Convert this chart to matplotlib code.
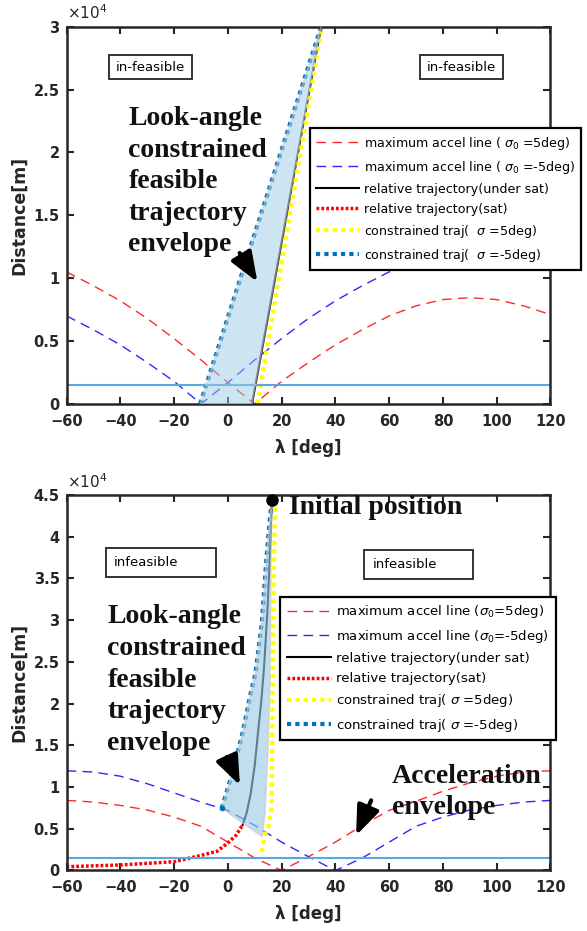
import matplotlib
matplotlib.use('Agg')
import matplotlib.pyplot as plt
from matplotlib.patches import Polygon, Rectangle
from matplotlib.ticker import FuncFormatter

# lambda grid [deg]
lam = [-60, -50, -40, -30, -20, -10, 0, 10, 20, 30, 40, 50, 60, 70, 80, 90, 100, 110, 120]

# ---- upper case (R0 = 3e4) ----
top_red = [10500, 9400, 8200, 6800, 5200, 3500, 1700, 0, 1800, 3300, 4700, 5900, 7000,
           7800, 8300, 8450, 8300, 7800, 7100]
top_blue = [7000, 5900, 4700, 3300, 1800, 0, 1700, 3500, 5200, 6800, 8200, 9400, 10500,
            11400, 12200, 12900, 13500, 14000, 14400]
top_traj_x = [9.0, 34.7]
top_traj_y = [0, 30000]
top_yel_x = [11.0, 35.0]
top_yel_y = [0, 30000]
top_cyan_x = [-10.3, 34.7]
top_cyan_y = [0, 30000]

# ---- lower case (R0 = 4.5e4) ----
bot_red = [8400, 8200, 7800, 7250, 6400, 5300, 3400, 1500, 0, 1650, 3400, 5400, 7200,
           8300, 9500, 10500, 11300, 11800, 11950]
bot_blue = [11950, 11800, 11300, 10400, 9300, 8200, 7200, 5400, 3400, 1650, 0, 1500, 3400,
            5300, 6400, 7250, 7800, 8200, 8400]
bot_sat_x = [-60, -40, -20, -10, -4, 0, 3, 5.5]
bot_sat_y = [450, 660, 1050, 1800, 2300, 3300, 4200, 5450]
bot_traj_x = [5.5, 7.0, 8.5, 10.0, 11.3, 12.5, 13.5, 14.7, 15.6, 16.3]
bot_traj_y = [5450, 6900, 9200, 12600, 16800, 20500, 24500, 31000, 37500, 44000]
bot_yel_x = [12.6, 13.8, 15.1, 16.3, 16.6, 17.0, 17.5]
bot_yel_y = [2200, 4250, 5300, 7600, 20000, 32000, 43500]
bot_cyan_x = [-2.3, 2.0, 5.7, 8.2, 10.2, 12.6, 14.4, 15.7, 16.3]
bot_cyan_y = [7450, 12000, 16800, 20800, 23500, 29600, 37600, 42400, 44000]
bot_env_right_x = [12.8, 13.8, 15.0, 15.7, 16.3]
bot_env_right_y = [4050, 6850, 14800, 22800, 44000]
init_x, init_y = 16.3, 44400

min_dist = 1500

labels_top = ['maximum accel line ( $\\sigma_0$ =5deg)',
              'maximum accel line ( $\\sigma_0$ =-5deg)',
              'relative trajectory(under sat)',
              'relative trajectory(sat)',
              'constrained traj(  $\\sigma$ =5deg)',
              'constrained traj(  $\\sigma$ =-5deg)']
labels_bot = ['maximum accel line ($\\sigma_0$=5deg)',
              'maximum accel line ($\\sigma_0$=-5deg)',
              'relative trajectory(under sat)',
              'relative trajectory(sat)',
              'constrained traj( $\\sigma$ =5deg)',
              'constrained traj( $\\sigma$ =-5deg)']

serif = dict(fontfamily='Liberation Serif', fontweight='bold', fontsize=20, color='#111111',
             linespacing=1.35)
arrow = dict(arrowstyle='-|>,head_length=0.9,head_width=0.35', lw=3, color='black',
             mutation_scale=20, shrinkA=0, shrinkB=0)

fig = plt.figure(figsize=(5.87, 9.31), dpi=100)
ax1 = fig.add_axes([0.1133, 0.5661, 0.8245, 0.4053])
ax2 = fig.add_axes([0.1133, 0.0650, 0.8245, 0.4033])


def style(ax, ymax):
    ax.set_xlim(-60, 120)
    ax.set_ylim(0, ymax)
    ax.set_xticks(range(-60, 121, 20))
    ax.set_yticks(range(0, ymax + 1, 5000))
    ax.yaxis.set_major_formatter(FuncFormatter(lambda v, p: '%g' % (v / 1e4)))
    ax.tick_params(direction='in', length=5, width=1.5, top=True, right=True,
                   labelsize=10.5, colors='#262626')
    ax.tick_params(axis='x', pad=7)
    ax.tick_params(axis='y', pad=5)
    for lab in ax.get_xticklabels() + ax.get_yticklabels():
        lab.set_fontweight('bold')
    for s in ax.spines.values():
        s.set_linewidth(1.8)
        s.set_color('#262626')
    ax.set_xlabel('\u03bb [deg]', fontsize=12, fontweight='bold', color='#262626', va='top')
    ax.xaxis.set_label_coords(0.5, -0.093)
    ax.set_ylabel('Distance[m]', fontsize=12.5, fontweight='bold', color='#262626')
    ax.yaxis.set_label_coords(-0.08, 0.5)
    ax.text(0.0, 1.012, '$\\times10^4$', transform=ax.transAxes, ha='left', va='bottom',
            fontsize=11, color='#262626')


def box(ax, x, y, w, h, txt, center):
    ax.add_patch(Rectangle((x, y), w, h, transform=ax.transAxes, facecolor='white',
                           edgecolor='#333333', lw=1.4, zorder=6))
    if center:
        ax.text(x + w / 2, y + h / 2, txt, transform=ax.transAxes, ha='center',
                va='center', fontsize=9.5, zorder=7)
    else:
        ax.text(x + 0.018, y + h / 2, txt, transform=ax.transAxes, ha='left',
                va='center', fontsize=9.5, zorder=7)


def legend(ax, handles, labels, anchor, size):
    leg = ax.legend(handles, labels, loc='upper left', bbox_to_anchor=anchor,
                    bbox_transform=fig.transFigure, fontsize=size, handlelength=3.4,
                    handletextpad=0.35, labelspacing=0.55, borderpad=0.5,
                    borderaxespad=0, fancybox=False, framealpha=1, edgecolor='black')
    leg.get_frame().set_linewidth(1.6)
    leg.set_zorder(10)


# ---------------- upper plot ----------------
style(ax1, 30000)
h1, = ax1.plot(lam, top_red, color='#ff2a2a', lw=1, dashes=(7, 4.5))
h2, = ax1.plot(lam, top_blue, color='#2a2aff', lw=1, dashes=(7, 4.5))
h3, = ax1.plot(top_traj_x, top_traj_y, color='black', lw=1.5)
h4, = ax1.plot([], [], color='red', lw=2.5, dashes=(0.8, 0.6))
h5, = ax1.plot(top_yel_x, top_yel_y, color='#ffff00', lw=3, dashes=(1, 1))
h6, = ax1.plot(top_cyan_x, top_cyan_y, color='#0072bd', lw=3, dashes=(1, 1))
ax1.axhline(min_dist, color='#5aa7dc', lw=1.5)
env1 = list(zip(top_cyan_x, top_cyan_y)) + list(zip(top_traj_x[::-1], top_traj_y[::-1]))
ax1.add_patch(Polygon(env1, closed=True, facecolor='#9ccbe6', edgecolor='#c8c8c8',
                      lw=1.2, alpha=0.5, zorder=4))
ax1.text(-37, 23700, 'Look-angle\nconstrained\nfeasible\ntrajectory\nenvelope',
         ha='left', va='top', zorder=8, **serif)
ax1.annotate('', xy=(11.0, 9700), xytext=(4.4, 12000), arrowprops=arrow, zorder=8)
box(ax1, 0.0868, 0.861, 0.1715, 0.0636, 'in-feasible', True)
box(ax1, 0.731, 0.861, 0.171, 0.0636, 'in-feasible', True)
legend(ax1, [h1, h2, h3, h4, h5, h6], labels_top, (0.528, 0.862), 9.1)

# ---------------- lower plot ----------------
style(ax2, 45000)
g1, = ax2.plot(lam, bot_red, color='#ff2a2a', lw=1, dashes=(7, 4.5))
g2, = ax2.plot(lam, bot_blue, color='#2a2aff', lw=1, dashes=(7, 4.5))
g3, = ax2.plot(bot_traj_x, bot_traj_y, color='black', lw=1.5)
g4, = ax2.plot(bot_sat_x, bot_sat_y, color='red', lw=2.5, dashes=(0.8, 0.6))
g5, = ax2.plot(bot_yel_x, bot_yel_y, color='#ffff00', lw=3, dashes=(1, 1))
g6, = ax2.plot(bot_cyan_x, bot_cyan_y, color='#0072bd', lw=3, dashes=(1, 1))
ax2.axhline(min_dist, color='#5aa7dc', lw=1.5)
env2 = list(zip(bot_cyan_x, bot_cyan_y)) + list(zip(bot_env_right_x[::-1], bot_env_right_y[::-1]))
ax2.add_patch(Polygon(env2, closed=True, facecolor='#9ccbe6', edgecolor='#c8c8c8',
                      lw=1.2, alpha=0.62, zorder=4))
ax2.plot([bot_cyan_x[0]], [bot_cyan_y[0]], 'o', color='#0072bd', ms=3, zorder=5)
ax2.plot([init_x], [init_y], 'o', color='black', ms=8, zorder=9, clip_on=False)
ax2.text(22.6, 45000, 'Initial position', ha='left', va='top', zorder=8, **serif)
ax2.text(-44.8, 31900, 'Look-angle\nconstrained\nfeasible\ntrajectory\nenvelope',
         ha='left', va='top', zorder=8, **serif)
ax2.text(61.0, 12800, 'Acceleration\nenvelope', ha='left', va='top', zorder=8, **serif)
ax2.annotate('', xy=(4.5, 10200), xytext=(-0.4, 13600), arrowprops=arrow, zorder=8)
ax2.annotate('', xy=(47.7, 4200), xytext=(53.3, 8400), arrowprops=arrow, zorder=8)
box(ax2, 0.0806, 0.7824, 0.228, 0.0773, 'infeasible', False)
box(ax2, 0.6138, 0.7763, 0.227, 0.0773, 'infeasible', False)
legend(ax2, [g1, g2, g3, g4, g5, g6], labels_bot, (0.477, 0.359), 9.5)

fig.savefig('out.png', dpi=100)
